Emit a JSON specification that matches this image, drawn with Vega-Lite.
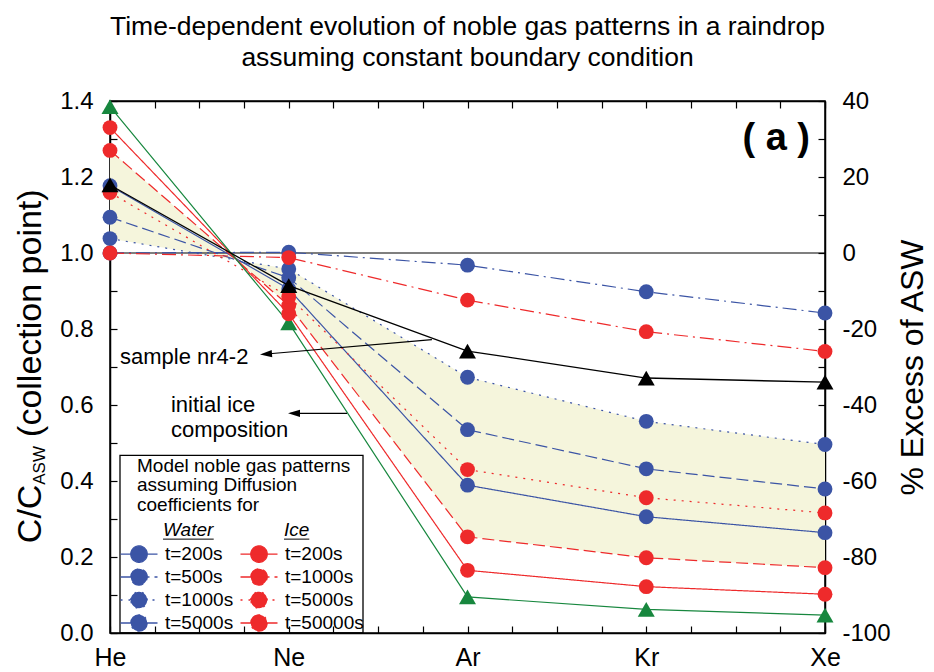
{
  "$schema": "https://vega.github.io/schema/vega-lite/v6.json",
  "width": 715,
  "height": 532,
  "autosize": {"type": "none"},
  "padding": {"left": 110, "top": 101, "right": 109, "bottom": 39},
  "background": "white",
  "title": {
    "text": ["Time-dependent evolution of noble gas patterns in a raindrop", "assuming constant boundary condition"],
    "fontSize": 26.5,
    "fontWeight": "normal",
    "lineHeight": 31,
    "anchor": "middle",
    "frame": "group",
    "offset": 18,
    "color": "black"
  },
  "config": {
    "font": "Liberation Sans",
    "view": {"stroke": "black", "strokeWidth": 1.5},
    "axis": {"domainColor": "black", "domainWidth": 1.5, "tickColor": "black", "tickWidth": 1.2, "labelColor": "black", "grid": false, "titleColor": "black"}
  },
  "datasets": {
    "model": [
      {"series": "W200", "gas": "He", "period": 1, "c": 1.177},
      {"series": "W200", "gas": "Ne", "period": 2, "c": 0.905},
      {"series": "W200", "gas": "Ar", "period": 3, "c": 0.389},
      {"series": "W200", "gas": "Kr", "period": 4, "c": 0.306},
      {"series": "W200", "gas": "Xe", "period": 5, "c": 0.264},
      {"series": "W500", "gas": "He", "period": 1, "c": 1.094},
      {"series": "W500", "gas": "Ne", "period": 2, "c": 0.935},
      {"series": "W500", "gas": "Ar", "period": 3, "c": 0.535},
      {"series": "W500", "gas": "Kr", "period": 4, "c": 0.432},
      {"series": "W500", "gas": "Xe", "period": 5, "c": 0.379},
      {"series": "W1000", "gas": "He", "period": 1, "c": 1.038},
      {"series": "W1000", "gas": "Ne", "period": 2, "c": 0.958},
      {"series": "W1000", "gas": "Ar", "period": 3, "c": 0.673},
      {"series": "W1000", "gas": "Kr", "period": 4, "c": 0.557},
      {"series": "W1000", "gas": "Xe", "period": 5, "c": 0.496},
      {"series": "W5000", "gas": "He", "period": 1, "c": 1.0},
      {"series": "W5000", "gas": "Ne", "period": 2, "c": 1.002},
      {"series": "W5000", "gas": "Ar", "period": 3, "c": 0.968},
      {"series": "W5000", "gas": "Kr", "period": 4, "c": 0.898},
      {"series": "W5000", "gas": "Xe", "period": 5, "c": 0.842},
      {"series": "I200", "gas": "He", "period": 1, "c": 1.33},
      {"series": "I200", "gas": "Ne", "period": 2, "c": 0.84},
      {"series": "I200", "gas": "Ar", "period": 3, "c": 0.165},
      {"series": "I200", "gas": "Kr", "period": 4, "c": 0.122},
      {"series": "I200", "gas": "Xe", "period": 5, "c": 0.102},
      {"series": "I1000", "gas": "He", "period": 1, "c": 1.27},
      {"series": "I1000", "gas": "Ne", "period": 2, "c": 0.862},
      {"series": "I1000", "gas": "Ar", "period": 3, "c": 0.253},
      {"series": "I1000", "gas": "Kr", "period": 4, "c": 0.198},
      {"series": "I1000", "gas": "Xe", "period": 5, "c": 0.172},
      {"series": "I5000", "gas": "He", "period": 1, "c": 1.159},
      {"series": "I5000", "gas": "Ne", "period": 2, "c": 0.885},
      {"series": "I5000", "gas": "Ar", "period": 3, "c": 0.43},
      {"series": "I5000", "gas": "Kr", "period": 4, "c": 0.356},
      {"series": "I5000", "gas": "Xe", "period": 5, "c": 0.316},
      {"series": "I50000", "gas": "He", "period": 1, "c": 1.0},
      {"series": "I50000", "gas": "Ne", "period": 2, "c": 0.988},
      {"series": "I50000", "gas": "Ar", "period": 3, "c": 0.876},
      {"series": "I50000", "gas": "Kr", "period": 4, "c": 0.793},
      {"series": "I50000", "gas": "Xe", "period": 5, "c": 0.741}
    ],
    "init": [
      {"gas": "He", "period": 1, "c": 1.385},
      {"gas": "Ne", "period": 2, "c": 0.816},
      {"gas": "Ar", "period": 3, "c": 0.095},
      {"gas": "Kr", "period": 4, "c": 0.062},
      {"gas": "Xe", "period": 5, "c": 0.047}
    ],
    "sample": [
      {"gas": "He", "period": 1, "c": 1.179},
      {"gas": "Ne", "period": 2, "c": 0.914},
      {"gas": "Ar", "period": 3, "c": 0.742},
      {"gas": "Kr", "period": 4, "c": 0.671},
      {"gas": "Xe", "period": 5, "c": 0.66}
    ]
  },
  "resolve": {"axis": {"x": "independent", "y": "independent"}},
  "layer": [
    {
      "data": {"name": "model"},
      "transform": [
        {"filter": {"field": "series", "oneOf": ["W1000", "I1000"]}},
        {"pivot": "series", "value": "c", "groupby": ["period"]}
      ],
      "mark": {"type": "area", "color": "#f5f5dc", "opacity": 1},
      "encoding": {
        "x": {
          "field": "period", "type": "quantitative",
          "scale": {"domain": [1, 5], "nice": false, "zero": false},
          "axis": {
            "orient": "bottom",
            "values": [1, 1.25, 1.5, 1.75, 2, 2.25, 2.5, 2.75, 3, 3.25, 3.5, 3.75, 4, 4.25, 4.5, 4.75, 5],
            "labelExpr": "datum.value == 1 ? 'He' : datum.value == 2 ? 'Ne' : datum.value == 3 ? 'Ar' : datum.value == 4 ? 'Kr' : datum.value == 5 ? 'Xe' : ''",
            "tickSize": -7, "labelPadding": 19, "labelFontSize": 25, "labelFlush": false, "labelOverlap": false, "title": null
          }
        },
        "y": {
          "field": "W1000", "type": "quantitative",
          "scale": {"domain": [0, 1.4], "nice": false, "zero": false},
          "axis": {
            "orient": "left",
            "values": [0, 0.1, 0.2, 0.3, 0.4, 0.5, 0.6, 0.7, 0.8, 0.9, 1.0, 1.1, 1.2, 1.3, 1.4],
            "labelExpr": "round(datum.value * 10) % 2 == 0 ? format(datum.value, '.1f') : ''",
            "tickSize": -7, "labelPadding": 24, "labelFontSize": 24, "labelFlush": false, "labelOverlap": false, "title": null
          }
        },
        "y2": {"field": "I1000"}
      }
    },
    {
      "data": {"values": [{}]},
      "mark": {"type": "rule", "color": "black", "strokeWidth": 1.2},
      "encoding": {"y": {"datum": 1, "type": "quantitative", "axis": null}}
    },
    {
      "data": {"name": "model"},
      "mark": {"type": "line", "strokeWidth": 1.2},
      "encoding": {
        "x": {
          "field": "period", "type": "quantitative",
          "scale": {"domain": [1, 5], "nice": false, "zero": false},
          "axis": {
            "orient": "top",
            "values": [1, 1.25, 1.5, 1.75, 2, 2.25, 2.5, 2.75, 3, 3.25, 3.5, 3.75, 4, 4.25, 4.5, 4.75, 5],
            "labels": false, "tickSize": -7, "title": null
          }
        },
        "y": {
          "field": "c", "type": "quantitative",
          "scale": {"domain": [0, 1.4], "nice": false, "zero": false},
          "axis": {
            "orient": "right",
            "values": [0, 0.1, 0.2, 0.3, 0.4, 0.5, 0.6, 0.7, 0.8, 0.9, 1.0, 1.1, 1.2, 1.3, 1.4],
            "labelExpr": "round(datum.value * 10) % 2 == 0 ? '' + round((datum.value - 1) * 100) : ''",
            "tickSize": -7, "labelPadding": 24, "labelFontSize": 24, "labelFlush": false, "labelOverlap": false,
            "title": "% Excess of ASW", "titleFontSize": 32, "titleFontWeight": "normal", "titleAngle": 270,
            "titleAlign": "center", "titleBaseline": "alphabetic", "titleX": 97, "titleY": 266
          }
        },
        "color": {
          "field": "series", "type": "nominal",
          "scale": {
            "domain": ["W200", "W500", "W1000", "W5000", "I200", "I1000", "I5000", "I50000"],
            "range": ["#3b54a5", "#3b54a5", "#3b54a5", "#3b54a5", "#ee2a2b", "#ee2a2b", "#ee2a2b", "#ee2a2b"]
          },
          "legend": {
            "orient": "none", "legendX": 18, "legendY": 442, "title": null, "columns": 2, "padding": 0,
            "symbolType": "M-1.85,0L1.85,0M-0.82,0A0.82,0.82,0,1,1,0.82,0A0.82,0.82,0,1,1,-0.82,0Z",
            "symbolSize": 400, "symbolStrokeWidth": 1.3, "labelFontSize": 19, "labelOffset": 15,
            "rowPadding": 1, "columnPadding": 3, "labelColor": "black", "labelLimit": 300,
            "labelExpr": "'t=' + slice(datum.value, 1) + 's'",
            "encode": {"symbols": {"update": {"fill": {"scale": "color", "field": "value"}, "stroke": {"scale": "color", "field": "value"}, "opacity": {"value": 1}}}}
          }
        },
        "strokeDash": {
          "field": "series", "type": "nominal",
          "scale": {
            "domain": ["W200", "W500", "W1000", "W5000", "I200", "I1000", "I5000", "I50000"],
            "range": [[1, 0], [12, 5], [2, 6], [14, 5, 2, 5], [1, 0], [12, 5], [2, 6], [14, 5, 2, 5]]
          },
          "legend": {
            "orient": "none", "legendX": 18, "legendY": 442, "title": null, "columns": 2, "padding": 0,
            "symbolType": "M-1.85,0L1.85,0M-0.82,0A0.82,0.82,0,1,1,0.82,0A0.82,0.82,0,1,1,-0.82,0Z",
            "symbolSize": 400, "symbolStrokeWidth": 1.3, "labelFontSize": 19, "labelOffset": 15,
            "rowPadding": 1, "columnPadding": 3, "labelColor": "black", "labelLimit": 300,
            "labelExpr": "'t=' + slice(datum.value, 1) + 's'"
          }
        }
      }
    },
    {
      "data": {"name": "init"},
      "mark": {"type": "line", "color": "#17873e", "strokeWidth": 1.2},
      "encoding": {
        "x": {"field": "period", "type": "quantitative", "axis": null},
        "y": {"field": "c", "type": "quantitative", "axis": null}
      }
    },
    {
      "data": {"name": "init"},
      "mark": {"type": "point", "shape": "triangle-up", "filled": true, "size": 289, "color": "#17873e", "opacity": 1},
      "encoding": {
        "x": {"field": "period", "type": "quantitative", "axis": null},
        "y": {"field": "c", "type": "quantitative", "axis": null}
      }
    },
    {
      "data": {"name": "model"},
      "mark": {"type": "point", "shape": "circle", "filled": true, "size": 220, "opacity": 1},
      "encoding": {
        "x": {"field": "period", "type": "quantitative", "axis": null},
        "y": {"field": "c", "type": "quantitative", "axis": null},
        "color": {
          "field": "series", "type": "nominal",
          "scale": {
            "domain": ["W200", "W500", "W1000", "W5000", "I200", "I1000", "I5000", "I50000"],
            "range": ["#3b54a5", "#3b54a5", "#3b54a5", "#3b54a5", "#ee2a2b", "#ee2a2b", "#ee2a2b", "#ee2a2b"]
          },
          "legend": null
        }
      }
    },
    {
      "data": {"name": "sample"},
      "mark": {"type": "line", "color": "black", "strokeWidth": 1.3},
      "encoding": {
        "x": {"field": "period", "type": "quantitative", "axis": null},
        "y": {"field": "c", "type": "quantitative", "axis": null}
      }
    },
    {
      "data": {"name": "sample"},
      "mark": {"type": "point", "shape": "triangle-up", "filled": true, "size": 289, "color": "black", "opacity": 1},
      "encoding": {
        "x": {"field": "period", "type": "quantitative", "axis": null},
        "y": {"field": "c", "type": "quantitative", "axis": null}
      }
    },
    {
      "data": {"values": [{}]},
      "mark": {"type": "rect", "fill": "white", "fillOpacity": 0, "stroke": "black", "strokeWidth": 1.3},
      "encoding": {
        "x": {"datum": 1.0559, "axis": null}, "x2": {"datum": 2.4154},
        "y": {"datum": 0, "axis": null}, "y2": {"datum": 0.4676}
      }
    },
    {
      "data": {"values": [{}]},
      "mark": {"type": "text", "text": ["Model noble gas patterns", "assuming Diffusion", "coefficients for"], "fontSize": 19, "lineHeight": 19.5, "align": "left", "baseline": "alphabetic", "color": "black"},
      "encoding": {"x": {"datum": 1.151, "axis": null}, "y": {"datum": 0.4237, "axis": null}}
    },
    {
      "data": {"values": [{}]},
      "mark": {"type": "text", "text": "Water", "fontSize": 19, "fontStyle": "italic", "align": "left", "baseline": "alphabetic", "color": "black"},
      "encoding": {"x": {"datum": 1.2966, "axis": null}, "y": {"datum": 0.2548, "axis": null}}
    },
    {
      "data": {"values": [{}]},
      "mark": {"type": "text", "text": "Ice", "fontSize": 19, "fontStyle": "italic", "align": "left", "baseline": "alphabetic", "color": "black"},
      "encoding": {"x": {"datum": 1.9734, "axis": null}, "y": {"datum": 0.2548, "axis": null}}
    },
    {
      "data": {"values": [{}]},
      "mark": {"type": "rule", "color": "black", "strokeWidth": 1},
      "encoding": {"x": {"datum": 1.2966, "axis": null}, "x2": {"datum": 1.5802}, "y": {"datum": 0.247, "axis": null}}
    },
    {
      "data": {"values": [{}]},
      "mark": {"type": "rule", "color": "black", "strokeWidth": 1},
      "encoding": {"x": {"datum": 1.9734, "axis": null}, "x2": {"datum": 2.115}, "y": {"datum": 0.247, "axis": null}}
    },
    {
      "data": {"values": [{}]},
      "mark": {"type": "text", "text": "sample nr4-2", "fontSize": 22, "align": "left", "baseline": "alphabetic", "color": "black"},
      "encoding": {"x": {"datum": 1.056, "axis": null}, "y": {"datum": 0.708, "axis": null}}
    },
    {
      "data": {"values": [{}]},
      "mark": {"type": "text", "text": ["initial ice", "composition"], "fontSize": 22, "lineHeight": 25, "align": "left", "baseline": "alphabetic", "color": "black"},
      "encoding": {"x": {"datum": 1.341, "axis": null}, "y": {"datum": 0.581, "axis": null}}
    },
    {
      "data": {"values": [{}]},
      "mark": {"type": "rule", "color": "black", "strokeWidth": 1.2},
      "encoding": {"x": {"datum": 2.801, "axis": null}, "y": {"datum": 0.772, "axis": null}, "x2": {"datum": 1.86}, "y2": {"datum": 0.7335}}
    },
    {
      "data": {"values": [{}]},
      "mark": {"type": "point", "shape": "M-1,0L1,-0.6L1,0.6Z", "size": 144, "filled": true, "color": "black", "opacity": 1, "angle": 355.7},
      "encoding": {"x": {"datum": 1.8727, "axis": null}, "y": {"datum": 0.7342, "axis": null}}
    },
    {
      "data": {"values": [{}]},
      "mark": {"type": "rule", "color": "black", "strokeWidth": 1.2},
      "encoding": {"x": {"datum": 2.326, "axis": null}, "y": {"datum": 0.578, "axis": null}, "x2": {"datum": 2.01}}
    },
    {
      "data": {"values": [{}]},
      "mark": {"type": "point", "shape": "M-1,0L1,-0.6L1,0.6Z", "size": 144, "filled": true, "color": "black", "opacity": 1},
      "encoding": {"x": {"datum": 2.0294, "axis": null}, "y": {"datum": 0.578, "axis": null}}
    },
    {
      "data": {"values": [{}]},
      "mark": {"type": "text", "text": "( a )", "fontSize": 38, "fontWeight": "bold", "align": "right", "baseline": "alphabetic", "color": "black"},
      "encoding": {"x": {"datum": 4.916, "axis": null}, "y": {"datum": 1.2713, "axis": null}}
    },
    {
      "data": {"values": [{}]},
      "mark": {"type": "text", "text": "C/C", "fontSize": 34, "angle": 270, "align": "left", "baseline": "alphabetic", "color": "black"},
      "encoding": {"x": {"datum": 0.614, "axis": null}, "y": {"datum": 0.2364, "axis": null}}
    },
    {
      "data": {"values": [{}]},
      "mark": {"type": "text", "text": "ASW", "fontSize": 17, "angle": 270, "align": "left", "baseline": "alphabetic", "color": "black"},
      "encoding": {"x": {"datum": 0.636, "axis": null}, "y": {"datum": 0.3901, "axis": null}}
    },
    {
      "data": {"values": [{}]},
      "mark": {"type": "text", "text": "(collection point)", "fontSize": 34, "angle": 270, "align": "left", "baseline": "alphabetic", "color": "black"},
      "encoding": {"x": {"datum": 0.614, "axis": null}, "y": {"datum": 0.516, "axis": null}}
    }
  ]
}
